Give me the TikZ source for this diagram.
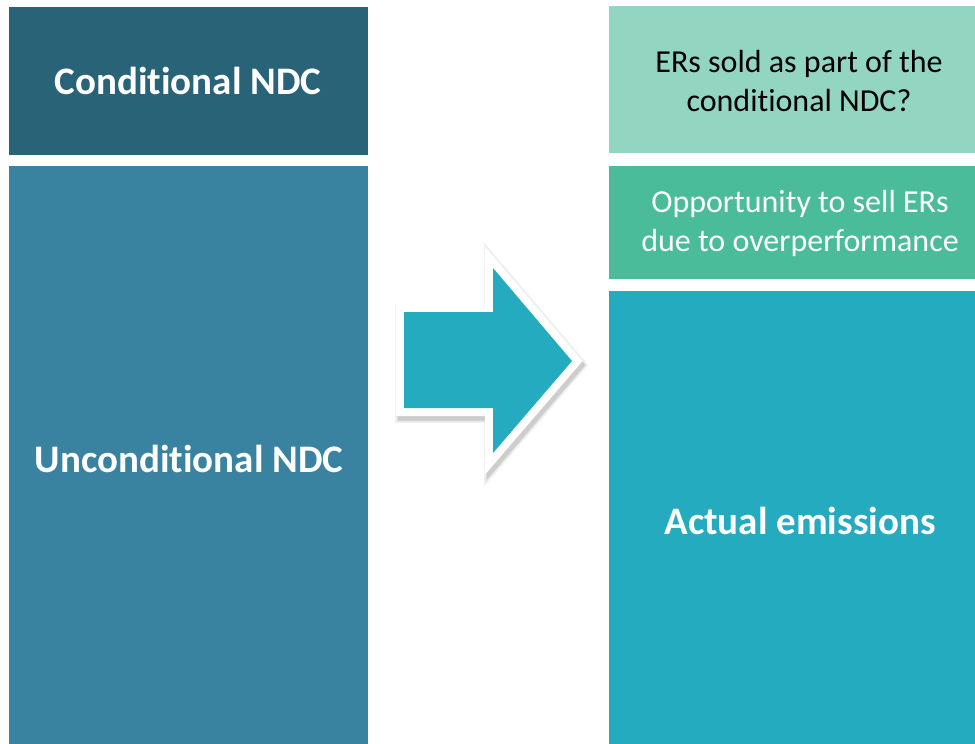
\documentclass[tikz,border=0pt]{standalone}
\usepackage{fontspec}
\setmainfont{Carlito}[Ligatures={NoCommon},Contextuals={NoAlternate}]
\definecolor{cdark}{RGB}{41,99,119}
\definecolor{cmid}{RGB}{57,131,160}
\definecolor{cmint}{RGB}{146,214,194}
\definecolor{cgreen}{RGB}{74,188,154}
\definecolor{cteal}{RGB}{37,171,192}
\begin{document}
\begin{tikzpicture}[x=1pt,y=-1pt,
  bigtxt/.style={text=white,font=\fontsize{39}{39}\selectfont\bfseries,align=center},
  smalltxt/.style={text=#1,font=\fontsize{32}{39}\selectfont,align=center}]
\useasboundingbox (0,0) rectangle (975,744);
% left boxes
\fill[cdark] (9,7) rectangle (368,155);
\fill[cmid] (9,166) rectangle (368,744);
% right boxes
\fill[cmint] (609,6) rectangle (975,153);
\fill[cgreen] (609,166) rectangle (975,279);
\fill[cteal] (609,291) rectangle (975,744);
% texts
\node[bigtxt] (cond) at (188,81) {Condi\kern0pt tional NDC};
\node[bigtxt] (uncond) at (189,459) {Uncondi\kern0pt tional NDC};
\node[smalltxt=black] (ers) at (799,81) {ERs sold as part of the\\condi\kern0pt tional NDC?};
\node[smalltxt=white] (opp) at (800,223) {Opportunity to sell ERs\\due to overperformance};
\node[bigtxt] (act) at (800,521) {Actual emissions};
% arrow with white border and soft shadow
\def\arrowpath{(404,312) -- (493,312) -- (493,268) -- (572,361) -- (493,453) -- (493,408) -- (404,408) -- cycle}
\foreach \o/\w in {0.05/22,0.07/19,0.09/17}{
  \draw[black,opacity=\o,line width=\w pt,line join=miter,shift={(2,4)}] \arrowpath;
}
\draw[white,line width=16pt,line join=miter] \arrowpath;
\fill[cteal] \arrowpath;
\end{tikzpicture}
\end{document}
